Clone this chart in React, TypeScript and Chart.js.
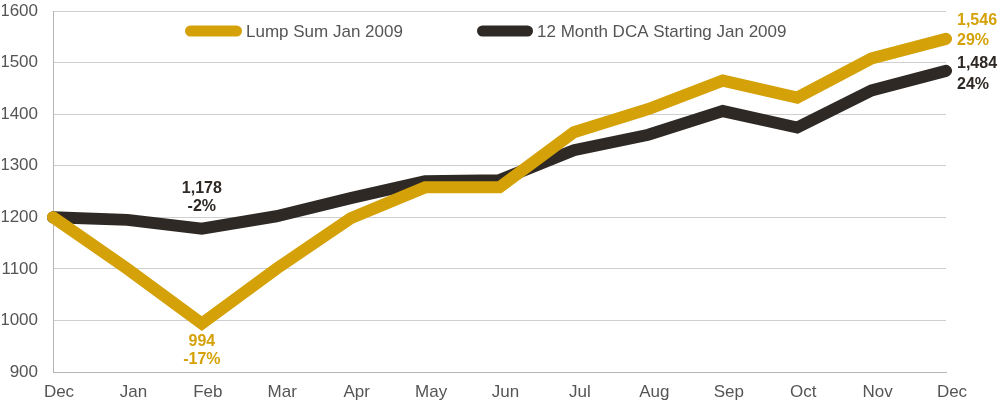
import React, { useEffect, useRef } from "react";
import { Chart, registerables } from "chart.js";

Chart.register(...registerables);

const months = ["Dec", "Jan", "Feb", "Mar", "Apr", "May", "Jun", "Jul", "Aug", "Sep", "Oct", "Nov", "Dec"];
const lumpSum = [1200, 1100, 994, 1100, 1198, 1258, 1258, 1365, 1410, 1465, 1432, 1508, 1546];
const dca = [1200, 1195, 1178, 1202, 1237, 1270, 1272, 1330, 1360, 1406, 1374, 1446, 1484];
const seriesNames = ["Lump Sum Jan 2009", "12 Month DCA Starting Jan 2009"];
const yTicks = [900, 1000, 1100, 1200, 1300, 1400, 1500, 1600];

const GOLD = "#D4A208";
const DARK = "#2E2925";
const FONT = "'Liberation Sans', Arial, sans-serif";

const annotate = {
  id: "annotate",
  afterDraw(chart: any) {
    const ctx = chart.ctx;
    const xs = chart.scales.x;
    const ys = chart.scales.y;
    ctx.save();
    // legend
    const legend = [
      { x: 185, w: 57, color: GOLD, text: seriesNames[0] },
      { x: 477, w: 56, color: DARK, text: seriesNames[1] },
    ];
    ctx.lineCap = "round";
    ctx.lineWidth = 11;
    ctx.font = `17px ${FONT}`;
    ctx.textBaseline = "middle";
    ctx.textAlign = "left";
    for (const l of legend) {
      ctx.strokeStyle = l.color;
      ctx.beginPath();
      ctx.moveTo(l.x + 5.5, 31);
      ctx.lineTo(l.x + l.w - 5.5, 31);
      ctx.stroke();
      ctx.fillStyle = "#555555";
      ctx.fillText(l.text, l.x + l.w + 4, 32);
    }
    // annotations
    ctx.font = `bold 16px ${FONT}`;
    const fmt = (v: number) => v.toLocaleString("en-US");
    const pct = (v: number, b: number) => `${Math.round(((v - b) / b) * 100)}%`;
    const feb = 2;
    const fx = xs.getPixelForValue(feb);
    ctx.textAlign = "center";
    ctx.fillStyle = DARK;
    const dy = ys.getPixelForValue(dca[feb]);
    ctx.fillText(fmt(dca[feb]), fx, dy - 40);
    ctx.fillText(pct(dca[feb], dca[0]), fx, dy - 22);
    ctx.fillStyle = GOLD;
    const gy = ys.getPixelForValue(lumpSum[feb]);
    ctx.fillText(fmt(lumpSum[feb]), fx, gy + 18);
    ctx.fillText(pct(lumpSum[feb], lumpSum[0]), fx, gy + 36);
    const last = months.length - 1;
    const lx = xs.getPixelForValue(last) + 11;
    ctx.textAlign = "left";
    ctx.fillStyle = GOLD;
    const gy2 = ys.getPixelForValue(lumpSum[last]);
    ctx.fillText(fmt(lumpSum[last]), lx, gy2 - 18);
    ctx.fillText(pct(lumpSum[last], lumpSum[0]), lx, gy2 + 2);
    ctx.fillStyle = DARK;
    const dy2 = ys.getPixelForValue(dca[last]);
    ctx.fillText(fmt(dca[last]), lx, dy2 - 7);
    ctx.fillText(pct(dca[last], dca[0]), lx, dy2 + 14);
    ctx.restore();
  },
};

export default function App() {
  const ref = useRef<HTMLCanvasElement>(null);
  useEffect(() => {
    const chart = new Chart(ref.current!, {
      type: "line",
      data: {
        labels: months,
        datasets: [
          {
            label: seriesNames[0],
            data: lumpSum,
            borderColor: GOLD,
            backgroundColor: GOLD,
            borderWidth: 12,
            borderCapStyle: "round",
            borderJoinStyle: "miter",
            pointRadius: 0,
            tension: 0,
          },
          {
            label: seriesNames[1],
            data: dca,
            borderColor: DARK,
            backgroundColor: DARK,
            borderWidth: 12,
            borderCapStyle: "round",
            borderJoinStyle: "miter",
            pointRadius: 0,
            tension: 0,
          },
        ],
      },
      options: {
        animation: false,
        responsive: false,
        layout: { padding: { top: 11, right: 54, left: 2, bottom: 0 } },
        plugins: { legend: { display: false }, tooltip: { enabled: false } },
        scales: {
          x: {
            offset: false,
            grid: { display: false, drawTicks: false },
            border: { display: true, color: "#b5b5b5", width: 1 },
            ticks: { color: "#555555", font: { family: FONT, size: 17 }, padding: 10, labelOffset: 6, autoSkip: false, maxRotation: 0 },
            afterFit: (s: any) => { s.height = 33; s.paddingLeft = 0; s.paddingRight = 0; },
          },
          y: {
            min: 900,
            max: 1600,
            afterBuildTicks: (s: any) => { s.ticks = yTicks.map((v) => ({ value: v })); },
            grid: { color: "#cfcfcf", lineWidth: 1, drawTicks: false },
            border: { display: true, color: "#b5b5b5", width: 1 },
            ticks: { color: "#555555", font: { family: FONT, size: 17 }, padding: 15, callback: (v: any) => String(v) },
            afterFit: (s: any) => { s.width = 51; s.paddingTop = 0; s.paddingBottom = 0; },
          },
        },
      },
      plugins: [annotate],
    } as any);
    return () => chart.destroy();
  }, []);
  return (
    <div style={{ position: "fixed", left: 0, top: 0, width: 1000, height: 405, background: "#fff" }}>
      <canvas ref={ref} width={1000} height={405} style={{ display: "block" }} />
    </div>
  );
}
